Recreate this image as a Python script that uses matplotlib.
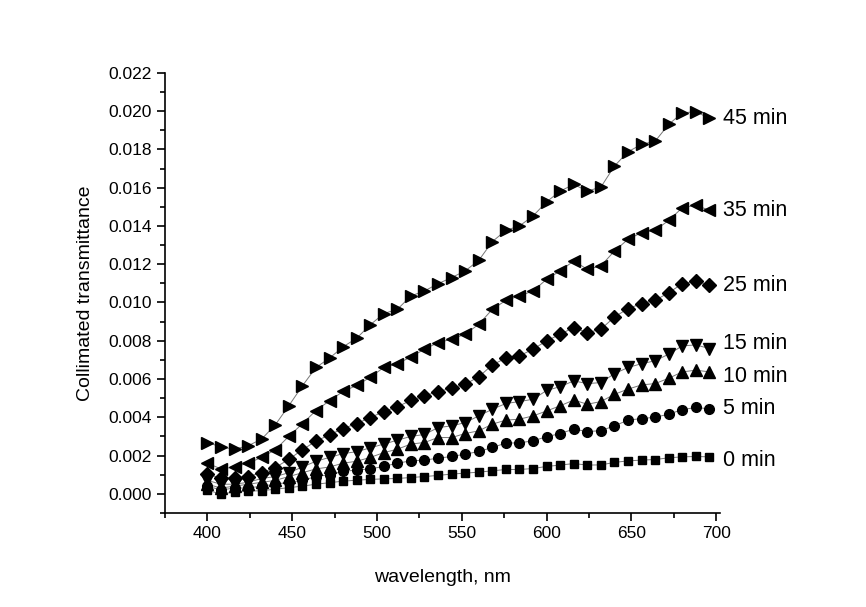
import numpy as np
import matplotlib
matplotlib.use("Agg")
import matplotlib.pyplot as plt
from matplotlib.ticker import MultipleLocator, FormatStrFormatter

plt.rcParams["font.family"] = ["Liberation Sans", "DejaVu Sans"]

# wavelength of every marker (nm)
wavelength = np.arange(400, 700, 8)

t0 = [0.00018, 0.00000, 0.00008, 0.00014, 0.00016, 0.00024, 0.00032, 0.00040,
      0.00050, 0.00058, 0.00066, 0.00071, 0.00075, 0.00078, 0.00080, 0.00085,
      0.00090, 0.00096, 0.00103, 0.00108, 0.00113, 0.00120, 0.00127, 0.00127,
      0.00132, 0.00143, 0.00150, 0.00158, 0.00150, 0.00151, 0.00164, 0.00172,
      0.00176, 0.00179, 0.00188, 0.00193, 0.00195, 0.00193]
t5 = [0.00040, 0.00020, 0.00030, 0.00030, 0.00040, 0.00050, 0.00060, 0.00070,
      0.00090, 0.00100, 0.00117, 0.00124, 0.00130, 0.00143, 0.00160, 0.00172,
      0.00176, 0.00186, 0.00195, 0.00207, 0.00221, 0.00242, 0.00265, 0.00266,
      0.00277, 0.00298, 0.00315, 0.00338, 0.00325, 0.00330, 0.00355, 0.00385,
      0.00393, 0.00400, 0.00416, 0.00440, 0.00451, 0.00444]
t10 = [0.00050, 0.00030, 0.00040, 0.00050, 0.00060, 0.00070, 0.00090, 0.00110,
       0.00130, 0.00140, 0.00160, 0.00170, 0.00190, 0.00215, 0.00233, 0.00260,
       0.00268, 0.00294, 0.00294, 0.00315, 0.00329, 0.00364, 0.00385, 0.00390,
       0.00407, 0.00433, 0.00460, 0.00490, 0.00468, 0.00482, 0.00520, 0.00547,
       0.00569, 0.00576, 0.00604, 0.00637, 0.00646, 0.00637]
t15 = [0.00070, 0.00050, 0.00050, 0.00060, 0.00080, 0.00090, 0.00110, 0.00140,
       0.00170, 0.00190, 0.00210, 0.00220, 0.00240, 0.00260, 0.00280, 0.00300,
       0.00310, 0.00346, 0.00355, 0.00372, 0.00407, 0.00442, 0.00472, 0.00482,
       0.00494, 0.00540, 0.00560, 0.00590, 0.00576, 0.00581, 0.00628, 0.00660,
       0.00680, 0.00695, 0.00730, 0.00773, 0.00778, 0.00759]
t25 = [0.00105, 0.00080, 0.00080, 0.00090, 0.00110, 0.00137, 0.00180, 0.00230,
       0.00275, 0.00308, 0.00341, 0.00367, 0.00398, 0.00430, 0.00455, 0.00488,
       0.00512, 0.00534, 0.00552, 0.00573, 0.00611, 0.00674, 0.00709, 0.00721,
       0.00756, 0.00799, 0.00834, 0.00869, 0.00842, 0.00860, 0.00924, 0.00968,
       0.00994, 0.01011, 0.01051, 0.01098, 0.01112, 0.01091]
t35 = [0.00160, 0.00130, 0.00140, 0.00160, 0.00190, 0.00230, 0.00300, 0.00366,
       0.00435, 0.00486, 0.00535, 0.00566, 0.00609, 0.00660, 0.00680, 0.00715,
       0.00756, 0.00790, 0.00808, 0.00834, 0.00886, 0.00964, 0.01011, 0.01034,
       0.01060, 0.01121, 0.01165, 0.01217, 0.01173, 0.01191, 0.01269, 0.01330,
       0.01365, 0.01377, 0.01429, 0.01495, 0.01509, 0.01481]
t45 = [0.00268, 0.00245, 0.00233, 0.00251, 0.00286, 0.00360, 0.00460, 0.00564,
       0.00660, 0.00709, 0.00768, 0.00813, 0.00883, 0.00942, 0.00964, 0.01034,
       0.01060, 0.01098, 0.01130, 0.01165, 0.01220, 0.01318, 0.01377, 0.01400,
       0.01452, 0.01526, 0.01582, 0.01617, 0.01582, 0.01603, 0.01713, 0.01788,
       0.01826, 0.01843, 0.01931, 0.01991, 0.01997, 0.01962]

series = [t0, t5, t10, t15, t25, t35, t45]
names = ["0 min", "5 min", "10 min", "15 min", "25 min", "35 min", "45 min"]

markers = ["s", "o", "^", "v", "D", "<", ">"]
msizes = [6.3, 7, 9, 9, 7.2, 9, 9]
# label nudges in points (vertical)
label_dy = [-2.5, 0, -3.5, 4, 0, 0, 0]

fig = plt.figure(figsize=(8.66, 6.07), dpi=100)
ax = fig.add_axes([0.1905, 0.155, 0.6405, 0.725])

for y, name, mk, ms, dy in zip(series, names, markers, msizes, label_dy):
    ax.plot(wavelength, y, color="#777777", lw=0.7, zorder=1)
    ax.plot(wavelength, y, ls="none", marker=mk, ms=ms, color="black",
            mec="black", zorder=2)
    ax.annotate(name, xy=(wavelength[-1], y[-1]), xytext=(10, dy),
                textcoords="offset points", va="center", ha="left",
                fontsize=15.5, annotation_clip=False)

ax.set_xlim(375, 702)
ax.set_ylim(-0.001, 0.022)
ax.xaxis.set_major_locator(MultipleLocator(50))
ax.xaxis.set_minor_locator(MultipleLocator(25))
ax.yaxis.set_major_locator(MultipleLocator(0.002))
ax.yaxis.set_minor_locator(MultipleLocator(0.001))
ax.yaxis.set_major_formatter(FormatStrFormatter("%.3f"))

ax.spines["top"].set_visible(False)
ax.spines["right"].set_visible(False)
ax.spines["left"].set_linewidth(1.2)
ax.spines["bottom"].set_linewidth(1.2)
ax.tick_params(which="major", direction="out", length=6, width=1.2, labelsize=12.5)
ax.tick_params(which="minor", direction="out", length=3.5, width=1.2)

ax.set_xlabel("wavelength, nm", fontsize=14, labelpad=20)
ax.set_ylabel("Collimated transmittance", fontsize=14, labelpad=10)

fig.savefig("out.png", dpi=100)
